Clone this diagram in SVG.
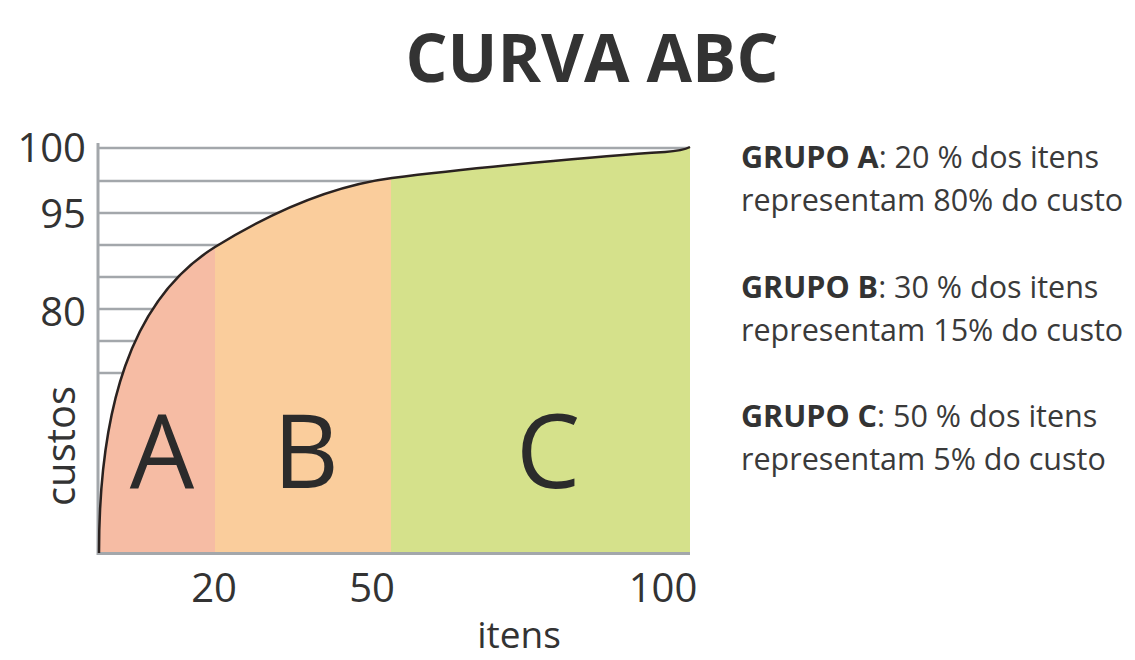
<svg xmlns="http://www.w3.org/2000/svg" width="1135" height="660" viewBox="0 0 1135 660">
<style>
  .t { font-family: "Open Sans", "Liberation Sans", sans-serif; fill: #333333; }
  .grid { stroke: #a3a7ab; stroke-width: 2.5; fill: none; }
  .ax { font-size: 40px; }
  .big { font-size: 102px; fill: #2b2b2b; text-anchor: middle; }
  .leg { font-size: 30.5px; fill: #3a3a3a; }
  .b { font-weight: bold; fill: #333; }
</style>
<defs>
  <clipPath id="under">
    <path d="M99,553 C99,410 130,300 215,247 C270,213 330,186 392,178 C470,168 600,156 665,152 C678,151 684,150 690,147 L690,553 Z"/>
  </clipPath>
</defs>
<rect width="1135" height="660" fill="#ffffff"/>
<text class="t" x="592" y="82" font-size="66" font-weight="bold" text-anchor="middle">CURVA ABC</text>

<g id="grid">
  <line class="grid" x1="99" y1="148" x2="690" y2="148"/>
  <line class="grid" x1="99" y1="181" x2="690" y2="181"/>
  <line class="grid" x1="99" y1="213" x2="690" y2="213"/>
  <line class="grid" x1="99" y1="245" x2="690" y2="245"/>
  <line class="grid" x1="99" y1="277" x2="690" y2="277"/>
  <line class="grid" x1="99" y1="309" x2="690" y2="309"/>
  <line class="grid" x1="99" y1="341" x2="690" y2="341"/>
  <line class="grid" x1="99" y1="373" x2="690" y2="373"/>
</g>

<g id="zones" clip-path="url(#under)">
  <rect id="zoneA" x="99" y="140" width="116" height="414" fill="#f6bca4"/>
  <rect id="zoneB" x="215" y="140" width="176" height="414" fill="#facd9c"/>
  <rect id="zoneC" x="391" y="140" width="299" height="414" fill="#d5e18b"/>
</g>

<g id="axes">
  <line x1="98" y1="143" x2="98" y2="555" stroke="#a3a7ab" stroke-width="3"/>
  <line x1="97" y1="553.5" x2="690" y2="553.5" stroke="#a3a7ab" stroke-width="3"/>
</g>

<g id="curve">
  <path d="M99,553 C99,410 130,300 215,247 C270,213 330,186 392,178 C470,168 600,156 665,152 C678,151 684,150 690,147" fill="none" stroke="#2a2220" stroke-width="2.5"/>
</g>

<g id="labels-y">
  <text class="t ax" x="86" y="162" text-anchor="end">100</text>
  <text class="t ax" x="86" y="228" text-anchor="end">95</text>
  <text class="t ax" x="86" y="326" text-anchor="end">80</text>
  <text class="t ax" transform="translate(75,446) rotate(-90)" text-anchor="middle">custos</text>
</g>

<g id="labels-x">
  <text class="t ax" x="214" y="602" text-anchor="middle">20</text>
  <text class="t ax" x="372" y="602" text-anchor="middle">50</text>
  <text class="t ax" x="663" y="602" text-anchor="middle">100</text>
  <text class="t" x="519" y="648" font-size="37" text-anchor="middle">itens</text>
</g>

<g id="zone-letters">
  <text class="t big" x="162" y="488">A</text>
  <text class="t big" x="306" y="488">B</text>
  <text class="t big" x="548" y="488">C</text>
</g>

<g id="legend">
  <g id="legA">
    <text class="t leg" x="741" y="168"><tspan class="b">GRUPO A</tspan>: 20 % dos itens</text>
    <text class="t leg" x="741" y="211">representam 80% do custo</text>
  </g>
  <g id="legB">
    <text class="t leg" x="741" y="298"><tspan class="b">GRUPO B</tspan>: 30 % dos itens</text>
    <text class="t leg" x="741" y="341">representam 15% do custo</text>
  </g>
  <g id="legC">
    <text class="t leg" x="741" y="427"><tspan class="b">GRUPO C</tspan>: 50 % dos itens</text>
    <text class="t leg" x="741" y="470">representam 5% do custo</text>
  </g>
</g>
</svg>
